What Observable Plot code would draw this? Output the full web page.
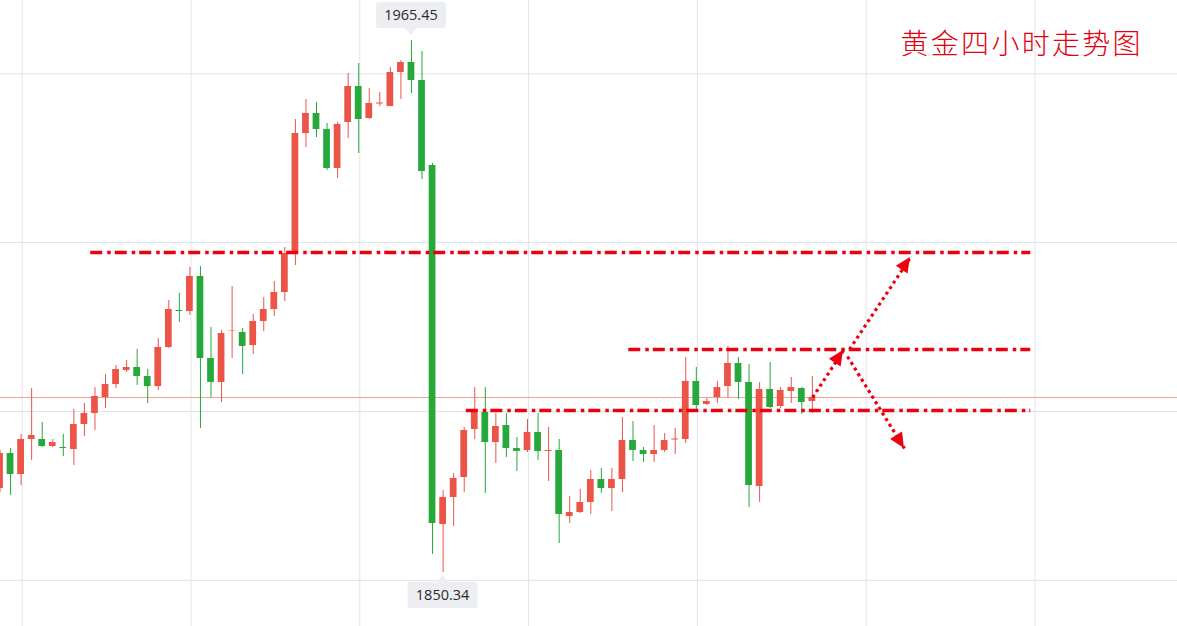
<!DOCTYPE html>
<html>
<head>
<meta charset="utf-8">
<script src="https://cdn.jsdelivr.net/npm/d3@7"></script>
<script src="https://cdn.jsdelivr.net/npm/@observablehq/plot@0.6"></script>
<style>
  html, body { margin: 0; padding: 0; background: #fff; overflow: hidden; }
  #chart svg { display: block; }
</style>
</head>
<body>
<div id="chart"></div>
<script>
// ---- Data: 4-hour gold candles (index 0..77) ----
const opens = [1868.51,1876.08,1871.54,1879.11,1879.11,1877.60,1877.38,1876.95,1882.36,1884.74,
  1888.20,1891.01,1894.04,1894.69,1892.74,1890.58,1899.02,1907.03,1906.81,1914.38,
  1896.64,1891.45,1902.48,1902.26,1899.45,1904.64,1907.24,1910.92,1919.36,1945.32,
  1949.65,1946.19,1937.75,1947.70,1955.49,1948.57,1951.70,1951.16,1958.52,1960.69,
  1956.79,1938.40,1860.72,1866.56,1870.89,1881.28,1884.96,1878.46,1882.14,1877.17,
  1876.73,1880.63,1876.52,1876.73,1862.45,1863.32,1865.48,1870.46,1868.51,1870.46,
  1878.90,1876.73,1875.87,1876.73,1879.00,1879.11,1891.66,1886.69,1888.20,1890.58,
  1895.56,1891.45,1868.94,1889.93,1886.25,1889.50,1890.15,1887.34];
const highs = [1876.73,1877.17,1880.20,1890.15,1882.79,1879.11,1880.20,1885.60,1886.90,1890.36,
  1893.18,1895.12,1896.21,1898.59,1894.26,1900.97,1909.19,1910.70,1916.33,1916.55,
  1903.35,1902.70,1912.22,1903.13,1906.16,1909.84,1913.30,1920.66,1948.35,1952.68,
  1952.03,1947.49,1947.70,1958.30,1960.47,1955.06,1954.19,1959.60,1961.12,1965.45,
  1963.07,1938.83,1868.08,1871.76,1881.71,1890.36,1890.36,1884.74,1884.74,1879.55,
  1883.44,1884.74,1881.71,1879.11,1866.78,1868.29,1872.41,1872.84,1872.84,1883.87,
  1883.01,1877.38,1882.14,1880.41,1881.49,1896.86,1894.69,1887.98,1891.66,1899.24,
  1896.86,1895.34,1891.45,1895.77,1890.36,1892.53,1890.36,1892.74];
const lows = [1867.65,1867.00,1869.16,1874.57,1877.38,1877.38,1875.44,1873.49,1879.76,1881.06,
  1885.82,1890.15,1893.61,1890.80,1886.90,1889.72,1898.80,1904.43,1905.94,1881.49,
  1888.20,1887.12,1896.64,1893.18,1897.51,1902.48,1905.73,1908.97,1916.76,1942.29,
  1944.46,1937.32,1935.59,1944.24,1941.00,1948.35,1951.16,1951.10,1952.68,1953.98,
  1935.37,1854.23,1850.34,1860.29,1867.65,1879.11,1867.43,1873.92,1875.22,1872.19,
  1876.30,1874.57,1870.03,1856.61,1860.94,1863.10,1862.89,1867.43,1863.53,1867.65,
  1874.35,1874.14,1874.14,1876.30,1875.87,1878.25,1885.39,1886.47,1886.90,1887.98,
  1887.77,1864.40,1865.48,1885.82,1885.82,1886.90,1884.52,1884.74];
const closes = [1876.08,1871.54,1879.11,1879.98,1877.60,1878.46,1877.17,1882.36,1884.74,1888.42,
  1891.01,1894.26,1894.69,1892.74,1890.58,1899.02,1907.24,1906.81,1914.38,1896.64,
  1891.45,1902.05,1902.58,1899.24,1904.64,1907.24,1910.92,1919.36,1945.32,1949.65,
  1946.19,1937.75,1947.27,1955.49,1948.35,1951.81,1951.92,1958.52,1960.69,1956.79,
  1937.10,1860.94,1866.56,1870.68,1881.06,1884.96,1878.46,1881.93,1877.17,1876.52,
  1880.63,1876.52,1876.73,1862.89,1863.32,1865.48,1870.46,1868.51,1870.46,1878.90,
  1876.73,1875.87,1876.73,1878.90,1879.22,1891.66,1886.47,1887.34,1890.36,1895.56,
  1891.45,1869.16,1889.93,1886.04,1889.72,1890.36,1887.12,1888.20];

// grid positions (candle index / price)
const gridIndex = [2.1, 18.1, 34.1, 50.1, 66.1, 82.1, 98.1];
const gridPrice = [1958.24, 1921.74, 1885.17, 1848.61];

// dash-dot key levels
const levelPrice = [1919.57, 1898.59, 1885.39];
const levelFrom  = [8.6, 59.6, 44.2];
const levelTo    = [97.7, 97.7, 97.7];

// dotted arrows (candle index / price)
const arrowFromI = [77.02, 80.52, 80.33];
const arrowFromP = [1888.20, 1898.59, 1897.07];
const arrowToI   = [79.95, 86.30, 85.73];
const arrowToP   = [1898.37, 1918.49, 1877.17];

const title = "黄金四小时走势图";

// ---- Build ----
const UP = "#ec5448", DOWN = "#27a83b", LINE_RED = "#ec0010";
const candles = opens.map((o, i) => ({
  i, open: o, high: highs[i], low: lows[i], close: closes[i],
  color: closes[i] >= o ? UP : DOWN
}));
const levels = levelPrice.map((p, k) => ({p, x1: levelFrom[k], x2: levelTo[k]}));
const arrows = arrowFromI.map((x, k) => ({x1: x, y1: arrowFromP[k], x2: arrowToI[k], y2: arrowToP[k]}));
const last = candles[candles.length - 1];

const plot = Plot.plot({
  width: 1177,
  height: 626,
  margin: 0,
  x: {domain: [0.047, 111.61], axis: null},
  y: {domain: [1838.65, 1974.10], axis: null},
  style: {background: "#fff"},
  marks: [
    Plot.ruleX(gridIndex, {stroke: "#e2e4e9", strokeWidth: 1}),
    Plot.ruleY(gridPrice, {stroke: "#e2e4e9", strokeWidth: 1}),
    Plot.ruleY([last.close], {stroke: "#eea294", strokeWidth: 1}),
    Plot.ruleX(candles, {x: "i", y1: "low", y2: "high", stroke: "color", strokeWidth: 1}),
    Plot.rect(candles, {x1: d => d.i - 0.32, x2: d => d.i + 0.32, y1: "open", y2: "close", fill: "color"}),
    Plot.ruleY(levels, {y: "p", x1: "x1", x2: "x2", stroke: LINE_RED, strokeWidth: 3.6, strokeDasharray: "12,5,3.5,4"}),
    Plot.link(arrows, {x1: "x1", y1: "y1", x2: "x2", y2: "y2", stroke: LINE_RED, strokeWidth: 3.2, strokeDasharray: "3.2,3.4"}),
    Plot.text([title], {
      frameAnchor: "top-left", dx: 900, dy: 45, text: d => d,
      textAnchor: "start", lineAnchor: "middle",
      fill: "#e3000f", fontSize: 28, fontWeight: 300, fontFamily: "Noto Sans CJK SC"
    })
  ]
});

document.getElementById("chart").appendChild(plot);

// ---- Decorations using the plot's own scales ----
const sx = plot.scale("x"), sy = plot.scale("y");
const fx = sx.apply ? (v => sx.apply(v)) : d3.scaleLinear(sx.domain, sx.range);
const fy = sy.apply ? (v => sy.apply(v)) : d3.scaleLinear(sy.domain, sy.range);
const svg = d3.select(plot);

svg.selectAll("text").filter(function () { return this.textContent === title; })
  .style("letter-spacing", "2.3px");

const g = svg.append("g");
arrows.forEach(a => {
  const X1 = fx(a.x1), Y1 = fy(a.y1), X2 = fx(a.x2), Y2 = fy(a.y2);
  const ang = Math.atan2(Y2 - Y1, X2 - X1);
  const L = 15, Wd = 7;
  const bx = X2 - L * Math.cos(ang), by = Y2 - L * Math.sin(ang);
  const px = -Math.sin(ang) * Wd, py = Math.cos(ang) * Wd;
  g.append("path")
    .attr("d", `M${X2},${Y2}L${bx + px},${by + py}L${bx - px},${by - py}Z`)
    .attr("fill", LINE_RED);
});

const hiI = d3.maxIndex(highs), loI = d3.minIndex(lows);
function priceLabel(i, value, above) {
  const cx = fx(i);
  const bw = 70, bh = 26, ph = 7;
  let tipY, boxY;
  if (above) { tipY = fy(value) - 5; boxY = tipY - ph - bh; }
  else { tipY = fy(value) + 3; boxY = tipY + ph; }
  const baseY = above ? tipY - ph : tipY + ph;
  g.append("path")
    .attr("d", `M${cx - 6},${baseY}L${cx},${tipY}L${cx + 6},${baseY}Z`)
    .attr("fill", "#eceef1");
  g.append("rect")
    .attr("x", cx - bw / 2).attr("y", boxY).attr("width", bw).attr("height", bh)
    .attr("rx", 3).attr("fill", "#eceef1");
  g.append("text")
    .attr("x", cx).attr("y", boxY + bh / 2)
    .attr("text-anchor", "middle").attr("dominant-baseline", "central")
    .attr("font-family", "Open Sans, Noto Sans, sans-serif").attr("font-size", 14.5)
    .attr("fill", "#2b2b2b")
    .text(value.toFixed(2));
}
priceLabel(hiI, highs[hiI], true);
priceLabel(loI, lows[loI], false);
</script>
</body>
</html>
